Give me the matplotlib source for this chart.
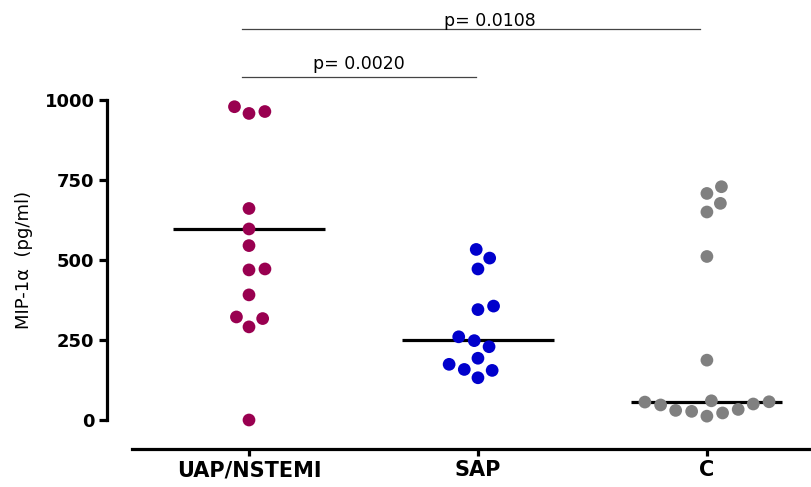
import numpy as np
import matplotlib.pyplot as plt

# values (pg/ml)
groups = ["UAP/NSTEMI", "SAP", "C"]
uap = [0, 291, 317, 322, 391, 469, 472, 545, 597, 661, 958, 964, 979]
sap = [132, 155, 158, 174, 193, 229, 248, 260, 345, 356, 472, 506, 533]
ctrl = [12, 22, 27, 30, 33, 47, 50, 56, 57, 60, 187, 511, 650, 677, 708, 729]
centre_lines = [597, 249, 57]
colors = ["#990050", "#0000CC", "#808080"]
comparisons = [(0, 1), (0, 2)]
p_labels = ["p= 0.0020", "p= 0.0108"]

W, H, DPI = 812, 487, 100
plt.rcParams['font.family'] = ['DejaVu Sans']

fig = plt.figure(figsize=(W / DPI, H / DPI), dpi=DPI)
# axes box in pixels: x 132..812, y(1000)=100, y(0)=420
ax = fig.add_axes([132 / W, (H - 420) / H, (W - 132) / W, 320 / H])
ax.set_xlim(-0.511, 2.459)
ax.set_ylim(0, 1000)

# pixel scale, used to lay the dots out like a swarm
px_x = 680 / (2.459 + 0.511)
px_y = 320 / 1000.0
dmin = 16.0


def swarm(vals):
    placed = []
    offs = []
    for v in vals:
        y = v * px_y
        cands = [0.0]
        for (xo, yo) in placed:
            dy = abs(y - yo)
            if dy < dmin:
                dx = np.sqrt(dmin ** 2 - dy ** 2)
                cands += [xo + dx, xo - dx]
        cands.sort(key=lambda c: (abs(c), -c))
        for c in cands:
            ok = all((c - xo) ** 2 + (y - yo) ** 2 >= dmin ** 2 - 1e-6
                     for (xo, yo) in placed)
            if ok:
                break
        placed.append((c, y))
        offs.append(c / px_x)
    return np.array(offs)


for i, vals in enumerate([uap, sap, ctrl]):
    vals = sorted(vals)
    xs = i + swarm(vals)
    ax.scatter(xs, vals, s=84, color=colors[i], edgecolors='none',
               zorder=3, clip_on=False)
    ax.plot([i - 0.33, i + 0.33], [centre_lines[i]] * 2, color='black',
            lw=2.3, zorder=2, solid_capstyle='butt')

# significance lines
line_y = [1073, 1222]
text_y = [1098, 1232]
for k, (a, b) in enumerate(comparisons):
    ax.plot([a - 0.03, b - 0.01 - 0.02 * k], [line_y[k]] * 2, color='#444444',
            lw=0.9, clip_on=False)
    mid = (a + b) / 2 + (-0.02 if k == 0 else 0.05)
    ax.text(mid, text_y[k], p_labels[k], ha='center', va='baseline',
            fontsize=12.5, color='black', clip_on=False)

for s in ['top', 'right']:
    ax.spines[s].set_visible(False)
# offsets are in points (1 pt = 100/72 px here)
ax.spines['left'].set_position(('outward', 25 * 72 / DPI))
ax.spines['bottom'].set_position(('outward', 29 * 72 / DPI))
ax.spines['left'].set_linewidth(2.3)
ax.spines['bottom'].set_linewidth(2.3)

ax.set_yticks([0, 250, 500, 750, 1000])
ax.set_xticks(range(len(groups)))
ax.set_xticklabels(groups)
ax.tick_params(axis='y', length=6, width=2.3, labelsize=13, pad=3)
ax.tick_params(axis='x', length=5, width=2.3, labelsize=15, pad=3)
for lab in ax.get_xticklabels() + ax.get_yticklabels():
    lab.set_fontweight('bold')

ax.set_ylabel("MIP-1α  (pg/ml)", fontsize=13)
ax.yaxis.set_label_coords((33 - 132) / 680, 0.5)

fig.savefig("out.png", dpi=DPI)
